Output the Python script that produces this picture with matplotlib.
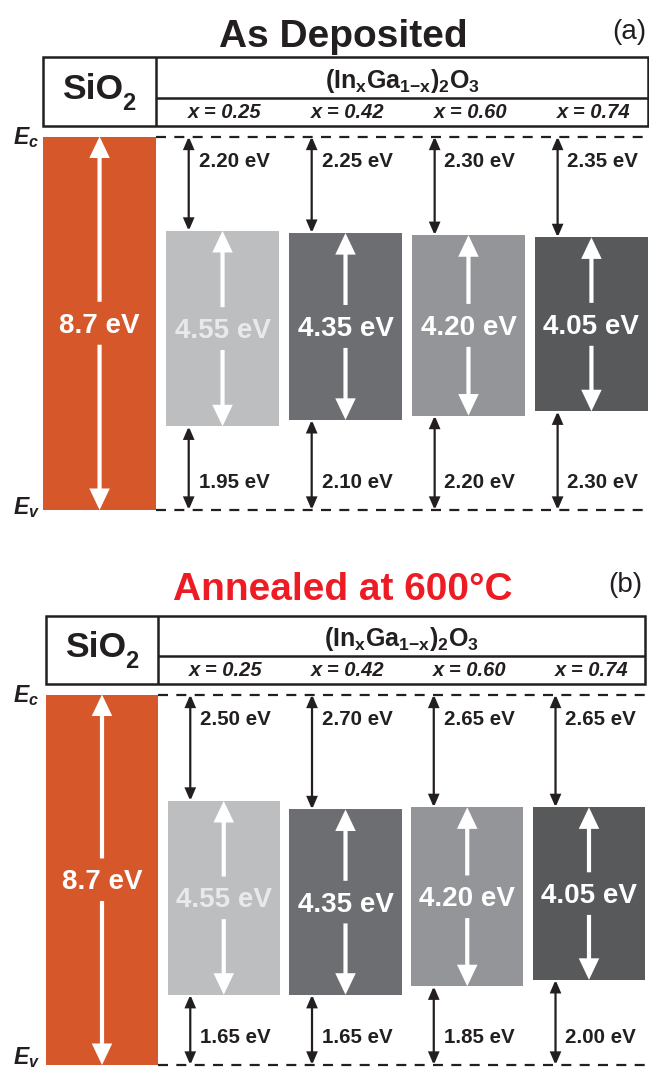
import matplotlib
matplotlib.use('Agg')
import matplotlib.pyplot as plt
from matplotlib.patches import Rectangle, FancyArrowPatch, ArrowStyle

plt.rcParams['font.family'] = ['Liberation Sans', 'DejaVu Sans']
plt.rcParams['mathtext.fontset'] = 'custom'
plt.rcParams['mathtext.rm'] = 'Liberation Sans:bold'
plt.rcParams['mathtext.it'] = 'Liberation Sans:italic:bold'
plt.rcParams['mathtext.bf'] = 'Liberation Sans:bold'
plt.rcParams['lines.scale_dashes'] = False

# ---------------- data ----------------
sio2_gap = 8.7
compositions = ['x = 0.25', 'x = 0.42', 'x = 0.60', 'x = 0.74']
band_gaps = [4.55, 4.35, 4.20, 4.05]
cb_offsets_asdep = [2.20, 2.25, 2.30, 2.35]
vb_offsets_asdep = [1.95, 2.10, 2.20, 2.30]
cb_offsets_ann = [2.50, 2.70, 2.65, 2.65]
vb_offsets_ann = [1.65, 1.65, 1.85, 2.00]
panel_titles = ['As Deposited', 'Annealed at 600\u00b0C']
panel_tags = ['(a)', '(b)']

# ---------------- styles ----------------
SIO2_COLOR = '#d6582a'
BAR_COLORS = ['#bcbec0', '#6d6e71', '#939598', '#58595b']
BAR_TEXT_COLORS = ['#e8e9ea', 'white', 'white', 'white']
DARK = '#231f20'
TITLE_COLORS = [DARK, '#ed1c24']

W, H, DPI = 649, 1072, 100
fig = plt.figure(figsize=(W / DPI, H / DPI), dpi=DPI)
fig.patch.set_facecolor('white')

# panel layout in pixels
layouts = [
    dict(left=43, top=57, right=648, ec=136.5, ev=510, title_off=89.5, tag_off=105, tag_x=629,
         ev_lab=0.05),
    dict(left=46, top=616, right=645, ec=694.5, ev=1065, title_off=94.5, tag_off=109, tag_x=625,
         ev_lab=0.17),
]
XMIN, XMAX = -0.46, 4.46
BW = 0.92


def add_arrow(ax, x, y0, y1, style, color, lw, hl, hw, z=5):
    ax.add_patch(FancyArrowPatch((x, y0), (x, y1),
                                 arrowstyle=ArrowStyle(style, head_length=hl, head_width=hw),
                                 color=color, lw=lw, shrinkA=0, shrinkB=0,
                                 mutation_scale=1, capstyle='butt', joinstyle='miter',
                                 zorder=z, clip_on=False))


for p, lay in enumerate(layouts):
    cb = cb_offsets_asdep if p == 0 else cb_offsets_ann
    vb = vb_offsets_asdep if p == 0 else vb_offsets_ann
    scale = (lay['ev'] - lay['ec']) / sio2_gap  # px per eV

    def py(off_px):
        return off_px / scale

    def pxx(px):
        return XMIN + (px - lay['left']) / (lay['right'] - lay['left']) * (XMAX - XMIN)

    y_top = -py(lay['ec'] - lay['top'])
    ax = fig.add_axes([lay['left'] / W, 1 - lay['ev'] / H,
                       (lay['right'] - lay['left']) / W, (lay['ev'] - lay['top']) / H])
    ax.set_xlim(XMIN, XMAX)
    ax.set_ylim(sio2_gap, y_top)
    ax.axis('off')

    # ---- header box ----
    hdr_bottom = -py(10.5)
    hdr_mid = -py(39)
    lw_box = 1.8
    ax.add_patch(Rectangle((XMIN, y_top), XMAX - XMIN, hdr_bottom - y_top, fill=False,
                           ec=DARK, lw=lw_box, clip_on=False, zorder=3))
    ax.plot([XMIN + BW, XMIN + BW], [y_top, hdr_bottom], color=DARK, lw=lw_box, clip_on=False,
            solid_capstyle='butt')
    ax.plot([XMIN + BW, XMAX], [hdr_mid, hdr_mid], color=DARK, lw=lw_box, clip_on=False,
            solid_capstyle='butt')
    ax.text(pxx(lay['left'] + 19), -py(37.5), 'SiO', ha='left', va='baseline',
            fontsize=25.5, fontweight='bold', color=DARK)
    ax.text(pxx(lay['left'] + 79), -py(26.5), '2', ha='left', va='baseline',
            fontsize=17, fontweight='bold', color=DARK)
    ax.text((XMIN + BW + XMAX) / 2, -py(48.5),
            r'$\mathrm{(In}_{\mathrm{x}}\mathrm{Ga}_{\mathrm{1{-}x}}\mathrm{)}_{\mathrm{2}}\mathrm{O}_{\mathrm{3}}$',
            ha='center', va='baseline', fontsize=18, color=DARK)
    for i, comp in enumerate(compositions):
        ax.text(i + 1 + 0.02, -py(18.5), comp, ha='center', va='baseline', fontsize=14.5,
                fontweight='bold', fontstyle='italic', color=DARK)

    # ---- titles ----
    ax.text((XMIN + XMAX) / 2 - 0.02, -py(lay['title_off']), panel_titles[p], ha='center',
            va='baseline', fontsize=28, fontweight='bold', color=TITLE_COLORS[p], clip_on=False)
    ax.text(pxx(lay['tag_x']), -py(lay['tag_off']), panel_tags[p], ha='center', va='center',
            fontsize=20, color=DARK, clip_on=False)

    # ---- Ec / Ev labels ----
    ax.text(pxx(13), 0.03, r'$\mathit{E}_{\mathit{c}}$', ha='left', va='center', fontsize=16.5,
            color=DARK, clip_on=False)
    ax.text(pxx(13), sio2_gap - lay['ev_lab'], r'$\mathit{E}_{\mathit{v}}$', ha='left',
            va='center', fontsize=16.5, color=DARK, clip_on=False)

    # ---- dashed band edges ----
    for yv in (0, sio2_gap):
        ax.plot([XMIN + BW, XMAX], [yv, yv], color=DARK, lw=1.6, dashes=(7.2, 6.0),
                clip_on=False, zorder=2)

    # ---- SiO2 bar ----
    ax.bar([0], [sio2_gap], width=BW, bottom=[0], color=SIO2_COLOR, zorder=1)
    mid = sio2_gap / 2
    add_arrow(ax, 0, mid - 0.5, 0, '-|>', 'white', 3.0, 10.5, 5.0)
    add_arrow(ax, 0, mid + 0.5, sio2_gap, '-|>', 'white', 3.0, 10.5, 5.0)
    ax.text(0, mid + 0.06, f'{sio2_gap:.1f} eV', ha='center', va='center', fontsize=20,
            fontweight='bold', color='white', zorder=6)

    # ---- oxide bars ----
    xs = [i + 1 for i in range(len(band_gaps))]
    ax.bar(xs, band_gaps, width=BW, bottom=cb, color=BAR_COLORS, zorder=1)
    for i, x in enumerate(xs):
        top = cb[i]
        bot = cb[i] + band_gaps[i]
        m = (top + bot) / 2
        add_arrow(ax, x, m - 0.5, top, '-|>', 'white', 3.0, 10.5, 5.0)
        add_arrow(ax, x, m + 0.5, bot, '-|>', 'white', 3.0, 10.5, 5.0)
        ax.text(x, m + 0.06, f'{band_gaps[i]:.2f} eV', ha='center', va='center', fontsize=20,
                fontweight='bold', color=BAR_TEXT_COLORS[i], zorder=6)
        ax_x = x - 0.275
        add_arrow(ax, ax_x, top, 0, '<|-|>', DARK, 1.6, 7.0, 3.0)
        add_arrow(ax, ax_x, bot, sio2_gap, '<|-|>', DARK, 1.6, 7.0, 3.0)
        ax.text(ax_x + 0.08, 0.58, f'{cb[i]:.2f} eV', ha='left', va='center', fontsize=14.8,
                fontweight='bold', color=DARK)
        ax.text(ax_x + 0.08, sio2_gap - 0.64, f'{vb[i]:.2f} eV', ha='left', va='center',
                fontsize=14.8, fontweight='bold', color=DARK)

fig.savefig('out.png', dpi=DPI, facecolor='white')
